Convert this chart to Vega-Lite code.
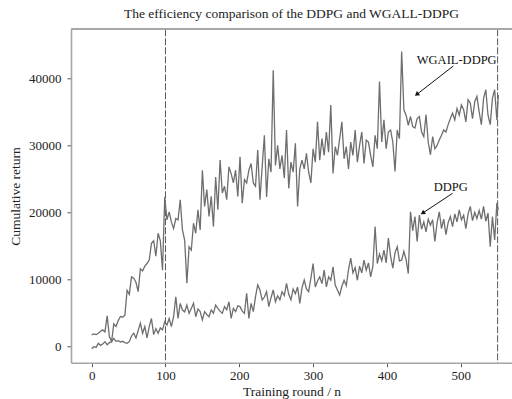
{
  "$schema": "https://vega.github.io/schema/vega-lite/v6.json",
  "width": 441,
  "height": 333.4,
  "autosize": {"type": "none"},
  "padding": {"left": 71, "top": 29.3, "right": 0, "bottom": 36.3},
  "background": "white",
  "config": {
    "font": "Liberation Serif",
    "view": {"stroke": null},
    "axis": {"grid": false, "domainColor": "#a6a6a6", "domainWidth": 1.6, "tickColor": "#555", "tickSize": 4, "labelFontSize": 13, "titleFontSize": 13.5, "labelColor": "#222", "titleColor": "#222", "labelFont": "Liberation Serif", "titleFont": "Liberation Serif", "titleFontWeight": "normal"},
    "title": {"font": "Liberation Serif", "fontSize": 13.5, "fontWeight": "normal", "color": "#222"}
  },
  "title": {"text": "The efficiency comparison of the DDPG and WGALL-DDPG", "offset": 8},
  "datasets": {
    "main": [
      {"n":0,"w":1750,"d":-300},{"n":3,"w":1900,"d":0},{"n":6,"w":1800,"d":-100},{"n":9,"w":2000,"d":500},{"n":12,"w":2300,"d":200},{"n":15,"w":2500,"d":400},{"n":18,"w":2200,"d":750},{"n":21,"w":4600,"d":300},{"n":24,"w":1500,"d":600},{"n":27,"w":800,"d":750},
      {"n":30,"w":3400,"d":1240},{"n":33,"w":3000,"d":800},{"n":36,"w":3900,"d":900},{"n":39,"w":4500,"d":700},{"n":42,"w":4400,"d":800},{"n":45,"w":4700,"d":600},{"n":48,"w":8400,"d":500},{"n":51,"w":7800,"d":750},{"n":54,"w":10400,"d":1600},{"n":57,"w":10200,"d":2000},
      {"n":60,"w":9600,"d":1300},{"n":63,"w":8200,"d":2400},{"n":66,"w":11600,"d":3500},{"n":69,"w":11300,"d":2000},{"n":72,"w":12000,"d":3000},{"n":75,"w":12400,"d":1300},{"n":78,"w":12900,"d":3000},{"n":81,"w":15400,"d":4200},{"n":84,"w":15800,"d":1800},{"n":87,"w":13500,"d":2700},
      {"n":90,"w":16900,"d":2000},{"n":93,"w":15800,"d":2800},{"n":96,"w":11400,"d":2500},{"n":99,"w":22300,"d":3700},{"n":102,"w":18900,"d":3230},{"n":105,"w":20100,"d":4200},{"n":108,"w":18600,"d":3000},{"n":111,"w":17600,"d":4470},{"n":114,"w":19100,"d":7450},{"n":117,"w":18900,"d":4200},
      {"n":120,"w":21900,"d":6460},{"n":123,"w":17400,"d":5470},{"n":126,"w":15900,"d":5200},{"n":129,"w":9450,"d":6200},{"n":132,"w":14900,"d":4970},{"n":135,"w":14400,"d":5700},{"n":138,"w":18400,"d":6460},{"n":141,"w":16900,"d":4470},{"n":144,"w":20400,"d":5600},{"n":147,"w":17400,"d":5220},
      {"n":150,"w":26300,"d":3980},{"n":153,"w":20900,"d":5220},{"n":156,"w":23400,"d":4800},{"n":159,"w":19400,"d":4470},{"n":162,"w":22400,"d":5470},{"n":165,"w":17900,"d":5000},{"n":168,"w":25300,"d":6200},{"n":171,"w":20400,"d":5720},{"n":174,"w":27800,"d":5300},{"n":177,"w":22900,"d":4970},
      {"n":180,"w":23900,"d":5970},{"n":183,"w":21900,"d":5500},{"n":186,"w":26800,"d":6700},{"n":189,"w":25800,"d":4220},{"n":192,"w":24400,"d":5720},{"n":195,"w":26300,"d":5220},{"n":198,"w":22400,"d":6100},{"n":201,"w":28300,"d":5970},{"n":204,"w":21400,"d":5300},{"n":207,"w":24900,"d":4970},
      {"n":210,"w":24400,"d":7950},{"n":213,"w":26300,"d":4220},{"n":216,"w":27300,"d":6460},{"n":219,"w":24400,"d":5220},{"n":222,"w":23900,"d":7450},{"n":225,"w":29300,"d":9200},{"n":228,"w":21900,"d":8450},{"n":231,"w":26800,"d":6950},{"n":234,"w":31500,"d":7400},{"n":237,"w":22300,"d":8200},
      {"n":240,"w":28000,"d":5970},{"n":243,"w":26000,"d":7300},{"n":246,"w":41200,"d":8450},{"n":249,"w":27000,"d":6700},{"n":252,"w":30000,"d":7600},{"n":255,"w":26500,"d":7000},{"n":258,"w":28500,"d":8200},{"n":261,"w":25100,"d":7600},{"n":264,"w":32300,"d":9450},{"n":267,"w":23600,"d":7800},
      {"n":270,"w":27500,"d":7000},{"n":273,"w":26000,"d":8600},{"n":276,"w":30300,"d":7900},{"n":279,"w":20900,"d":8900},{"n":282,"w":26500,"d":6460},{"n":285,"w":27800,"d":8800},{"n":288,"w":26500,"d":9940},{"n":291,"w":28800,"d":8600},{"n":294,"w":26000,"d":8200},{"n":297,"w":24400,"d":10200},
      {"n":300,"w":29500,"d":12400},{"n":303,"w":27500,"d":8900},{"n":306,"w":33500,"d":9800},{"n":309,"w":27800,"d":10400},{"n":312,"w":31000,"d":9400},{"n":315,"w":28500,"d":11400},{"n":318,"w":32000,"d":8900},{"n":321,"w":29000,"d":10400},{"n":324,"w":36000,"d":9900},{"n":327,"w":25800,"d":11900},
      {"n":330,"w":29800,"d":9200},{"n":333,"w":28500,"d":8450},{"n":336,"w":31000,"d":7700},{"n":339,"w":33500,"d":9000},{"n":342,"w":28000,"d":9900},{"n":345,"w":29800,"d":9100},{"n":348,"w":26500,"d":11500},{"n":351,"w":30500,"d":13200},{"n":354,"w":28500,"d":11000},{"n":357,"w":32300,"d":11800},
      {"n":360,"w":27500,"d":9900},{"n":363,"w":30000,"d":12000},{"n":366,"w":32000,"d":11000},{"n":369,"w":27300,"d":12900},{"n":372,"w":30800,"d":11400},{"n":375,"w":30500,"d":12500},{"n":378,"w":28500,"d":10400},{"n":381,"w":26800,"d":12000},{"n":384,"w":31500,"d":17900},{"n":387,"w":29500,"d":12400},
      {"n":390,"w":39500,"d":13800},{"n":393,"w":30500,"d":12800},{"n":396,"w":33800,"d":14400},{"n":399,"w":29500,"d":12500},{"n":402,"w":32000,"d":16200},{"n":405,"w":32300,"d":13500},{"n":408,"w":30500,"d":11700},{"n":411,"w":26100,"d":14000},{"n":414,"w":32300,"d":14900},{"n":417,"w":31000,"d":12800},
      {"n":420,"w":44000,"d":12900},{"n":423,"w":35300,"d":14200},{"n":426,"w":34500,"d":13000},{"n":429,"w":33000,"d":10900},{"n":432,"w":34300,"d":20100},{"n":435,"w":32800,"d":17300},{"n":438,"w":32600,"d":19400},{"n":441,"w":34000,"d":15700},{"n":444,"w":34300,"d":19600},{"n":447,"w":32000,"d":17500},
      {"n":450,"w":31300,"d":18600},{"n":453,"w":34600,"d":17100},{"n":456,"w":30500,"d":19000},{"n":459,"w":28600,"d":18100},{"n":462,"w":31300,"d":18900},{"n":465,"w":29500,"d":15700},{"n":468,"w":30000,"d":18500},{"n":471,"w":30800,"d":20100},{"n":474,"w":31500,"d":17600},{"n":477,"w":32300,"d":19000},
      {"n":480,"w":32000,"d":16700},{"n":483,"w":33100,"d":18500},{"n":486,"w":34000,"d":19400},{"n":489,"w":34800,"d":17900},{"n":492,"w":33800,"d":19800},{"n":495,"w":35500,"d":18600},{"n":498,"w":34500,"d":20400},{"n":501,"w":36000,"d":18900},{"n":504,"w":35300,"d":19600},{"n":507,"w":33500,"d":17600},
      {"n":510,"w":36800,"d":19800},{"n":513,"w":36300,"d":20900},{"n":516,"w":34000,"d":18800},{"n":519,"w":36500,"d":20000},{"n":522,"w":37300,"d":19100},{"n":525,"w":35000,"d":20300},{"n":528,"w":33100,"d":19000},{"n":531,"w":37000,"d":20900},{"n":534,"w":38300,"d":18700},{"n":537,"w":34500,"d":19900},
      {"n":540,"w":33100,"d":14900},{"n":543,"w":37000,"d":19400},{"n":546,"w":38300,"d":15900},{"n":549,"w":33800,"d":21400},{"n":551,"w":37500,"d":20400}
    ],
    "notes": [
      {"label": "WGAIL-DDPG", "tx": 494.6, "ty": 42730, "x1": 490, "y1": 41830, "x2": 441.2, "y2": 37660, "ang": 232},
      {"label": "DDPG", "tx": 486.4, "ty": 23850, "x1": 489, "y1": 22860, "x2": 449.3, "y2": 19970, "ang": 236.6}
    ],
    "vlines": [{"x": 100}, {"x": 550}]
  },
  "layer": [
    {
      "data": {"name": "vlines"},
      "mark": {"type": "rule", "color": "#444", "strokeWidth": 0.9, "strokeDash": [7, 2]},
      "encoding": {"x": {"field": "x", "type": "quantitative", "scale": {"domain": [-28, 569.5], "nice": false, "zero": false}}}
    },
    {
      "data": {"name": "main"},
      "mark": {"type": "line", "color": "#6e6e6e", "strokeWidth": 1.3},
      "encoding": {
        "x": {"field": "n", "type": "quantitative", "scale": {"domain": [-28, 569.5], "nice": false, "zero": false}, "axis": {"values": [0, 100, 200, 300, 400, 500], "format": "d", "title": "Training round / n", "labelFont": "Liberation Serif", "labelPadding": 3, "titlePadding": 2}},
        "y": {"field": "w", "type": "quantitative", "scale": {"domain": [-2385, 47300], "nice": false, "zero": false}, "axis": {"values": [0, 10000, 20000, 30000, 40000], "format": "d", "title": "Cumulative return", "labelFont": "Liberation Serif", "labelPadding": 6, "titlePadding": 6}}
      }
    },
    {
      "data": {"name": "main"},
      "mark": {"type": "line", "color": "#6e6e6e", "strokeWidth": 1.3},
      "encoding": {
        "x": {"field": "n", "type": "quantitative"},
        "y": {"field": "d", "type": "quantitative"}
      }
    },
    {
      "data": {"name": "main"},
      "mark": {"type": "rule", "color": "#a6a6a6", "strokeWidth": 1.2},
      "encoding": {"y": {"datum": 47300}}
    },
    {
      "data": {"name": "notes"},
      "mark": {"type": "rule", "color": "#111", "strokeWidth": 1},
      "encoding": {
        "x": {"field": "x1", "type": "quantitative"},
        "y": {"field": "y1", "type": "quantitative"},
        "x2": {"field": "x2"},
        "y2": {"field": "y2"}
      }
    },
    {
      "data": {"name": "notes"},
      "mark": {"type": "point", "shape": "triangle", "filled": true, "color": "#111", "size": 28, "opacity": 1},
      "encoding": {
        "x": {"field": "x2", "type": "quantitative"},
        "y": {"field": "y2", "type": "quantitative"},
        "angle": {"field": "ang", "type": "quantitative", "scale": null}
      }
    },
    {
      "data": {"name": "notes"},
      "mark": {"type": "text", "fontSize": 12.5, "color": "#111", "font": "Liberation Serif", "baseline": "middle"},
      "encoding": {
        "x": {"field": "tx", "type": "quantitative"},
        "y": {"field": "ty", "type": "quantitative"},
        "text": {"field": "label"}
      }
    }
  ]
}
